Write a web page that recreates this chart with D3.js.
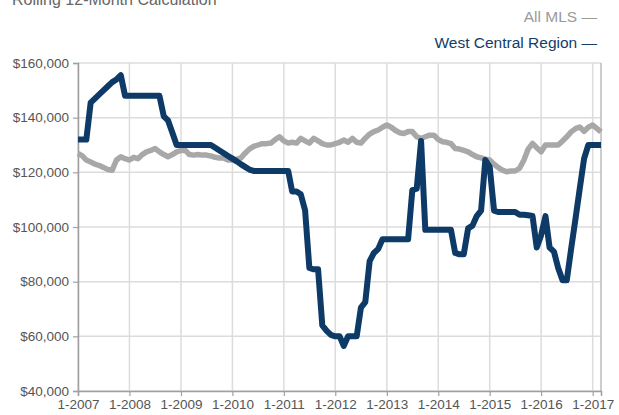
<!DOCTYPE html>
<html>
<head>
<meta charset="utf-8">
<script src="https://d3js.org/d3.v7.min.js"></script>
<style>
  body { margin: 0; background: #fff; }
  text { font-family: "Liberation Sans", Arial, sans-serif; }
</style>
</head>
<body>
<div id="chart-area"></div>
<script>

// months from 1-2007 to 3-2017
var startMonth = new Date(2007, 0, 1);
var endMonth = new Date(2017, 2, 1);

var yearTicks = ["1-2007","1-2008","1-2009","1-2010","1-2011","1-2012","1-2013","1-2014","1-2015","1-2016","1-2017"];
var priceTicks = [40000, 60000, 80000, 100000, 120000, 140000, 160000];

var allMLS = [
    126900,126000,124500,123800,123000,122500,121800,121000,120800,124500,125700,125000,
    124500,125500,125000,126500,127500,128000,128700,127500,126500,125700,126500,127500,
    128000,128000,126500,126300,126500,126300,126300,126000,125500,125200,125200,124500,
    124500,124800,125200,127000,128500,129500,130000,130500,130500,130700,132000,133000,
    131500,130700,131000,130700,132400,131500,130700,132400,131500,130500,130000,130000,
    130500,131000,131800,131000,132400,131000,130700,132500,134000,134900,135500,136500,
    137300,136500,135400,134500,134200,134900,134900,133000,132400,133000,133600,133600,
    132000,131200,131000,130500,128700,128500,128000,127500,126500,125700,125300,124800,
    124500,123000,121800,120800,120200,120500,120500,121500,124500,128500,130600,129000,
    127500,130000,130000,130000,130000,131500,133000,134800,136000,136600,135000,136500,
    137300,136000,134800
];

var westCentral = [
    132000,132000,132000,145500,147000,148500,150000,151500,153000,154000,155500,148000,
    148000,148000,148000,148000,148000,148000,148000,148000,140500,139000,134500,130000,
    130000,130000,130000,130000,130000,130000,130000,130000,129000,128000,127000,126000,
    125000,124000,123000,122000,121000,120500,120500,120500,120500,120500,120500,120500,
    120500,120500,113000,113000,112000,106000,85000,84500,84500,64000,62000,60500,
    60000,60000,56500,60000,60000,60000,70500,72500,87500,90500,92000,95500,
    95500,95500,95500,95500,95500,95500,113500,114000,131500,99000,99000,99000,
    99000,99000,99000,99000,90500,90000,90000,99500,100500,104000,106000,124500,
    122000,106000,105500,105500,105500,105500,105500,104500,104500,104300,104000,92500,
    97000,104000,92500,91000,85000,80500,80500,92000,103000,114000,125000,130000,
    130000,130000,130000
];

var months = d3.timeMonth.range(startMonth, d3.timeMonth.offset(endMonth, 1));

var margin = {left: 78, right: 18, top: 63, bottom: 24};
var width = 619 - margin.left - margin.right;
var height = 415 - margin.top - margin.bottom;

var svg = d3.select("#chart-area")
    .append("svg")
    .attr("width", 619)
    .attr("height", 415);

svg.append("text")
    .attr("x", 12)
    .attr("y", 5)
    .attr("font-size", "16px")
    .attr("fill", "#666")
    .text("Rolling 12-Month Calculation");

svg.append("text")
    .attr("x", 597)
    .attr("y", 22)
    .attr("font-size", "15.5px")
    .attr("text-anchor", "end")
    .attr("fill", "#9a9a9a")
    .text("All MLS \u2014");

svg.append("text")
    .attr("x", 597)
    .attr("y", 48)
    .attr("font-size", "15.5px")
    .attr("text-anchor", "end")
    .attr("fill", "#123d66")
    .text("West Central Region \u2014");

var g = svg.append("g")
    .attr("transform", "translate(" + margin.left + "," + margin.top + ")");

var x = d3.scaleTime()
    .domain([startMonth, endMonth])
    .range([0, width]);

var y = d3.scaleLinear()
    .domain([40000, 160000])
    .range([height, 0]);

var parseTick = d3.timeParse("%m-%Y");
var xTickDates = yearTicks.map(function(t){ return parseTick(t); });

// grid
g.append("g")
    .selectAll("line")
    .data(priceTicks)
    .enter()
    .append("line")
    .attr("x1", 0)
    .attr("x2", width)
    .attr("y1", function(d){ return y(d); })
    .attr("y2", function(d){ return y(d); })
    .attr("stroke", "#dcdcdc")
    .attr("stroke-width", 1.5);

g.append("g")
    .selectAll("line")
    .data(xTickDates)
    .enter()
    .append("line")
    .attr("x1", function(d){ return x(d); })
    .attr("x2", function(d){ return x(d); })
    .attr("y1", 0)
    .attr("y2", height)
    .attr("stroke", "#dcdcdc")
    .attr("stroke-width", 1.5);

g.append("line")
    .attr("x1", width)
    .attr("x2", width)
    .attr("y1", 0)
    .attr("y2", height)
    .attr("stroke", "#bdbdbd")
    .attr("stroke-width", 1.5);

var xAxisCall = d3.axisBottom(x)
    .tickValues(xTickDates)
    .tickSize(5)
    .tickPadding(3)
    .tickFormat(function(d, i){ return yearTicks[i]; });

var xAxis = g.append("g")
    .attr("class", "x axis")
    .attr("transform", "translate(0," + height + ")")
    .call(xAxisCall);

var yAxisCall = d3.axisLeft(y)
    .tickValues(priceTicks)
    .tickSize(5)
    .tickPadding(4)
    .tickFormat(function(d){ return "$" + d3.format(",")(d); });

var yAxis = g.append("g")
    .attr("class", "y axis")
    .call(yAxisCall);

[xAxis, yAxis].forEach(function(a){
    a.select(".domain").attr("stroke", "#a0a0a0").attr("stroke-width", 1.5);
    a.selectAll(".tick line").attr("stroke", "#a0a0a0").attr("stroke-width", 1.2);
    a.selectAll("text")
        .attr("fill", "#555")
        .attr("font-size", "13.5px")
        .attr("font-family", "Liberation Sans, Arial, sans-serif");
});

var line = d3.line()
    .x(function(d, i){ return x(months[i]); })
    .y(function(d){ return y(d); });

g.append("path")
    .datum(allMLS)
    .attr("fill", "none")
    .attr("stroke", "#a8a8a8")
    .attr("stroke-width", 5.5)
    .attr("stroke-linejoin", "round")
    .attr("d", line);

g.append("path")
    .datum(westCentral)
    .attr("fill", "none")
    .attr("stroke", "#0d3a66")
    .attr("stroke-width", 6)
    .attr("stroke-linejoin", "round")
    .attr("d", line);

</script>
</body>
</html>
